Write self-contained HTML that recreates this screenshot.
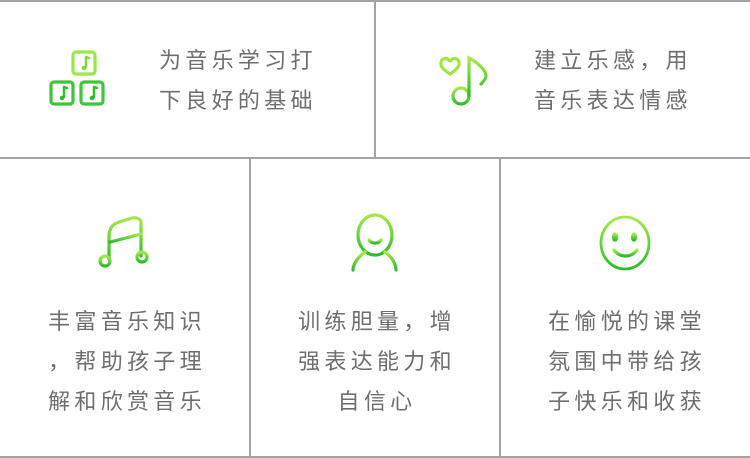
<!DOCTYPE html>
<html><head><meta charset="utf-8"><style>
html,body{margin:0;padding:0;background:#fff;}
#c{position:relative;width:750px;height:458px;overflow:hidden;font-family:"Liberation Sans","Noto Sans CJK SC",sans-serif;color:#6e6e6e;}
.l{position:absolute;background:#a3a3a3;}
.t{position:absolute;font-size:22px;line-height:40px;letter-spacing:4.3px;white-space:nowrap;}
.c{text-align:center;width:250px;}
svg{position:absolute;}
</style></head><body><div id="c">
<div class="l" style="left:0;top:0;width:750px;height:2px"></div>
<div class="l" style="left:0;top:157px;width:750px;height:2px"></div>
<div class="l" style="left:0;top:456px;width:750px;height:2px"></div>
<div class="l" style="left:374px;top:0;width:2px;height:158px"></div>
<div class="l" style="left:249px;top:158px;width:2px;height:300px"></div>
<div class="l" style="left:499px;top:158px;width:2px;height:300px"></div>

<svg width="750" height="458" style="left:0;top:0">
<defs>
<linearGradient id="g" x1="0" y1="0" x2="0" y2="1"><stop offset="0" stop-color="#a6e84a"/><stop offset="1" stop-color="#2cbc2c"/></linearGradient>
</defs>
<g fill="none" stroke="url(#g)" stroke-width="3.2" stroke-linecap="round">
<rect x="73" y="52" width="22" height="22" rx="3" stroke="#9ee54a"/>
<rect x="51" y="82" width="22" height="22" rx="3" stroke="#3cc43a"/>
<rect x="81" y="82" width="22" height="22" rx="3" stroke="#3cc43a"/>
<path d="M86 57v10M86 57l3 1" stroke="#7fd640" stroke-width="2.5"/><circle cx="84" cy="68" r="2.3" fill="#7fd640" stroke="none"/>
<path d="M64 87v10M64 87l3 1" stroke="#2fbd2f" stroke-width="2.5"/><circle cx="62" cy="98" r="2.3" fill="#2fbd2f" stroke="none"/>
<path d="M94 87v10M94 87l3 1" stroke="#2fbd2f" stroke-width="2.5"/><circle cx="92" cy="98" r="2.3" fill="#2fbd2f" stroke="none"/>
<path d="M450 74c-4-3-9-6-9-10a4 4 0 0 1 9-2a4 4 0 0 1 9 2c0 4-5 7-9 10z" stroke="#a0e44a"/>
<circle cx="461" cy="96" r="8"/>
<path d="M469 96V58c8 4 17 12 17 18c0 3-3 6-5 8"/>
<path d="M109 259v-23c0-8 4-12 10-14l13-4c5-1 9 1 9 5v33"/>
<path d="M110 242l31-8"/>
<circle cx="105" cy="261" r="5"/>
<circle cx="142" cy="257" r="5"/>
<ellipse cx="375" cy="235" rx="17" ry="20"/>
<path d="M369 240c3 4 9 4 12 0"/>
<path d="M365 252c-7 5-12 12-12 18M385 252c7 5 11 12 11 18"/>
<ellipse cx="625" cy="243" rx="24" ry="26" stroke-width="2.8"/>
<ellipse cx="615" cy="237" rx="1.5" ry="3" fill="#7fd640"/>
<ellipse cx="634" cy="237" rx="1.5" ry="3" fill="#7fd640"/>
<path d="M614 250c6 8 17 8 23 0"/>
</g>
</svg>

<div class="t" style="left:159px;top:41px">为音乐学习打<br>下良好的基础</div>
<div class="t" style="left:534px;top:41px">建立乐感，用<br>音乐表达情感</div>
<div class="t c" style="left:2px;top:302px">丰富音乐知识<br>，帮助孩子理<br>解和欣赏音乐</div>
<div class="t c" style="left:252px;top:302px">训练胆量，增<br>强表达能力和<br>自信心</div>
<div class="t c" style="left:502px;top:302px">在愉悦的课堂<br>氛围中带给孩<br>子快乐和收获</div>
</div></body></html>
